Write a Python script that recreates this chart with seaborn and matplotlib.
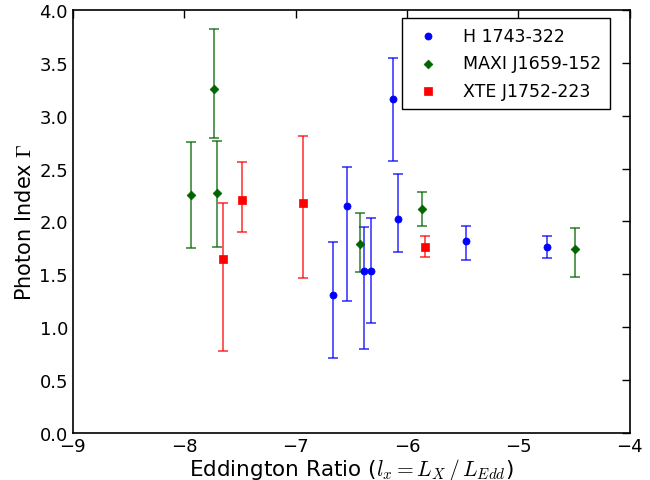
import numpy as np
import pandas as pd
import matplotlib
matplotlib.use("Agg")
import matplotlib.pyplot as plt
import seaborn as sns

# H 1743-322
h_x = [-6.66, -6.54, -6.385, -6.325, -6.127, -6.083, -5.475, -4.748]
h_y = [1.30, 2.15, 1.535, 1.535, 3.155, 2.02, 1.816, 1.756]
h_lo = [0.59, 0.90, 0.745, 0.50, 0.586, 0.305, 0.177, 0.104]
h_hi = [0.51, 0.365, 0.416, 0.498, 0.394, 0.429, 0.141, 0.11]

# MAXI J1659-152
m_x = [-7.935, -7.737, -7.71, -6.426, -5.864, -4.49]
m_y = [2.253, 3.253, 2.266, 1.79, 2.118, 1.74]
m_lo = [0.50, 0.46, 0.504, 0.27, 0.163, 0.268]
m_hi = [0.50, 0.57, 0.498, 0.287, 0.164, 0.202]

# XTE J1752-223
x_x = [-7.651, -7.48, -6.935, -5.837]
x_y = [1.642, 2.206, 2.172, 1.759]
x_lo = [0.867, 0.302, 0.706, 0.098]
x_hi = [0.53, 0.36, 0.639, 0.101]

names = ["H 1743-322", "MAXI J1659-152", "XTE J1752-223"]
colors = {"H 1743-322": "#0000ff", "MAXI J1659-152": "#006400", "XTE J1752-223": "#ff0000"}
markers = {"H 1743-322": "o", "MAXI J1659-152": "D", "XTE J1752-223": "s"}
msizes = {"H 1743-322": 26, "MAXI J1659-152": 20, "XTE J1752-223": 26}

sns.set_style("white", {"xtick.direction": "in", "ytick.direction": "in",
                        "text.color": "black", "axes.labelcolor": "black",
                        "xtick.color": "black", "ytick.color": "black"})
plt.rcParams["font.family"] = ["DejaVu Sans"]
plt.rcParams["mathtext.fontset"] = "cm"

fig = plt.figure(figsize=(6.5, 4.81), dpi=100)
ax = fig.add_axes([0.112, 0.098, 0.857, 0.879])

series = [(names[0], h_x, h_y, h_lo, h_hi),
          (names[1], m_x, m_y, m_lo, m_hi),
          (names[2], x_x, x_y, x_lo, x_hi)]

frames = []
for name, xs, ys, lo, hi in series:
    ax.errorbar(xs, ys, yerr=[lo, hi], fmt="none", ecolor=colors[name],
                elinewidth=1.3, capsize=3.5, capthick=1.3, alpha=0.7, zorder=2)
    frames.append(pd.DataFrame({"x": xs, "y": ys, "src": name}))
df = pd.concat(frames, ignore_index=True)

for name in names:
    sub = df[df["src"] == name]
    sns.scatterplot(data=sub, x="x", y="y", color=colors[name], marker=markers[name],
                    s=msizes[name], edgecolor=colors[name], linewidth=0.5, label=name,
                    ax=ax, zorder=3)

ax.set_xlim(-9, -4)
ax.set_ylim(0, 4)
ax.set_xticks([-9, -8, -7, -6, -5, -4])
ax.set_yticks(np.arange(0, 4.01, 0.5))
ax.set_yticklabels([f"{v:.1f}" for v in np.arange(0, 4.01, 0.5)])
ax.tick_params(axis="both", which="major", direction="in", length=6, width=1,
               labelsize=13, top=True, right=True, color="black", labelcolor="black")
ax.tick_params(axis="x", pad=3)
for sp in ax.spines.values():
    sp.set_color("black")
    sp.set_linewidth(1.2)

ax.set_xlabel(r"Eddington Ratio ($l_x = L_X\,/\,L_{Edd}$)", fontsize=15.5, labelpad=1,
              color="black")
ax.set_ylabel(r"Photon Index $\Gamma$", fontsize=15, labelpad=3, color="black")

leg = ax.legend(loc="upper right", bbox_to_anchor=(0.964, 0.981), fontsize=12.5,
                frameon=True, fancybox=False, edgecolor="black", framealpha=1,
                borderpad=0.5, labelspacing=0.55, handletextpad=1.0, borderaxespad=0,
                handlelength=2.0)
leg.get_frame().set_linewidth(1.0)

fig.savefig("out.png", dpi=100)
